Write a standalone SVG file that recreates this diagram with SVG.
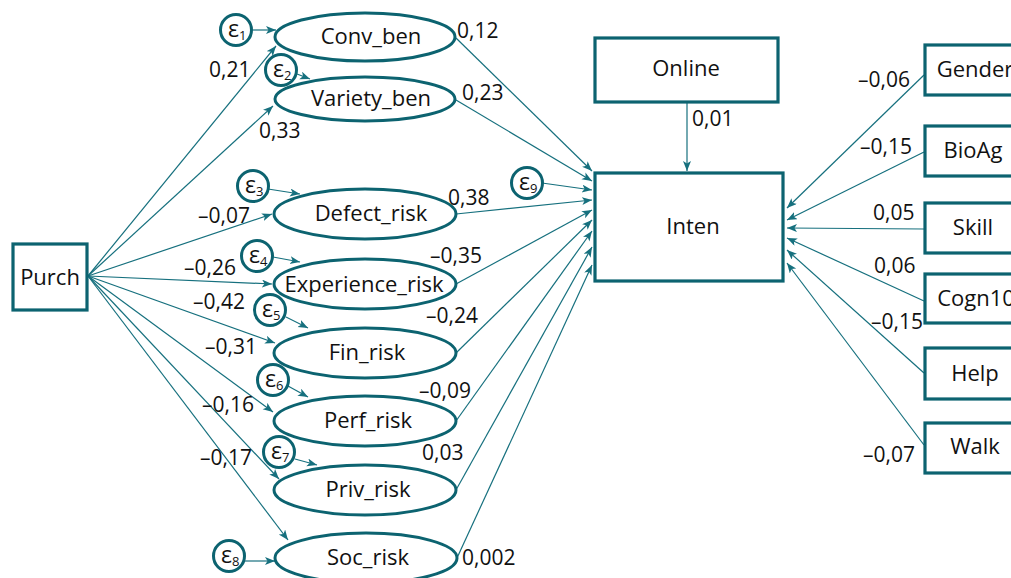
<svg xmlns="http://www.w3.org/2000/svg" width="1011" height="578" viewBox="0 0 1011 578">
<style>
.n{fill:#fff;stroke:#0c6370;stroke-width:3.2}
.e{fill:#fff;stroke:#0c6370;stroke-width:3}
.t{font-family:"Open Sans","Liberation Sans",sans-serif;font-size:22px;fill:#111;text-anchor:middle}
.l{font-family:"Open Sans","Liberation Sans",sans-serif;font-size:21px;fill:#111}
.s{font-family:"Open Sans","Liberation Sans",sans-serif;fill:#111}
.c line{stroke:#16707e;stroke-width:1.2;marker-end:url(#a)}
</style>
<defs>
<marker id="a" markerUnits="userSpaceOnUse" markerWidth="11" markerHeight="9" refX="10" refY="4" orient="auto">
<path d="M0,0 L10,4 L0,8 L2.5,4 z" fill="#16707e"/>
</marker>
</defs>
<g class="c" id="connectors">
<line x1="88" y1="276" x2="276" y2="46"/>
<line x1="88" y1="276" x2="273" y2="106"/>
<line x1="88" y1="276" x2="272" y2="214"/>
<line x1="88" y1="276" x2="272" y2="284"/>
<line x1="88" y1="276" x2="275" y2="343"/>
<line x1="88" y1="276" x2="273" y2="412"/>
<line x1="88" y1="276" x2="279" y2="479"/>
<line x1="88" y1="276" x2="288" y2="540"/>
<line x1="253" y1="30" x2="276" y2="30"/>
<line x1="297" y1="74" x2="310" y2="79"/>
<line x1="268" y1="189" x2="300" y2="194"/>
<line x1="273" y1="257" x2="300" y2="262"/>
<line x1="286" y1="317" x2="308" y2="328"/>
<line x1="288" y1="386" x2="308" y2="397"/>
<line x1="295" y1="459" x2="317" y2="465"/>
<line x1="245" y1="561" x2="275" y2="561"/>
<line x1="542" y1="183" x2="592" y2="190"/>
<line x1="456" y1="38" x2="592" y2="171"/>
<line x1="456" y1="100" x2="592" y2="181"/>
<line x1="456" y1="214" x2="592" y2="200"/>
<line x1="456" y1="284" x2="592" y2="210"/>
<line x1="456" y1="353" x2="592" y2="220"/>
<line x1="456" y1="421" x2="592" y2="231"/>
<line x1="456" y1="490" x2="592" y2="247"/>
<line x1="457" y1="558" x2="592" y2="265"/>
<line x1="687" y1="102" x2="687" y2="171"/>
<line x1="924" y1="75" x2="787" y2="208"/>
<line x1="924" y1="152" x2="787" y2="220"/>
<line x1="924" y1="229" x2="787" y2="228"/>
<line x1="924" y1="301" x2="787" y2="238"/>
<line x1="924" y1="373" x2="787" y2="250"/>
<line x1="924" y1="445" x2="787" y2="263"/>
</g>
<g id="purch"><rect class="n" x="13" y="244" width="74" height="66"/><text class="t" x="50" y="285">Purch</text></g>
<g id="online"><rect class="n" x="595" y="38" width="183" height="64"/><text class="t" x="686" y="76">Online</text></g>
<g id="inten"><rect class="n" x="595" y="173" width="188" height="108"/><text class="t" x="693" y="234">Inten</text></g>
<g id="conv_ben"><ellipse class="e" cx="365" cy="37" rx="90" ry="24"/><text class="t" x="371" y="44">Conv_ben</text></g>
<g id="variety_ben"><ellipse class="e" cx="365" cy="99" rx="90" ry="22"/><text class="t" x="371" y="106">Variety_ben</text></g>
<g id="defect_risk"><ellipse class="e" cx="365" cy="214" rx="91" ry="25"/><text class="t" x="371" y="221">Defect_risk</text></g>
<g id="experience_risk"><ellipse class="e" cx="365" cy="284" rx="91" ry="25"/><text class="t" x="364" y="292">Experience_risk</text></g>
<g id="fin_risk"><ellipse class="e" cx="365" cy="353" rx="91" ry="25"/><text class="t" x="367" y="360">Fin_risk</text></g>
<g id="perf_risk"><ellipse class="e" cx="365" cy="421" rx="91" ry="25"/><text class="t" x="368" y="428">Perf_risk</text></g>
<g id="priv_risk"><ellipse class="e" cx="365" cy="490" rx="91" ry="25"/><text class="t" x="368" y="497">Priv_risk</text></g>
<g id="soc_risk"><ellipse class="e" cx="366" cy="558" rx="91" ry="25"/><text class="t" x="368" y="565">Soc_risk</text></g>
<g id="e1"><circle class="e" cx="236" cy="30" r="15.5"/><text class="s" x="228" y="37" font-size="23">ε<tspan font-size="13" dy="3">1</tspan></text></g>
<g id="e2"><circle class="e" cx="281" cy="70" r="15.5"/><text class="s" x="273" y="77" font-size="23">ε<tspan font-size="13" dy="3">2</tspan></text></g>
<g id="e3"><circle class="e" cx="253" cy="186" r="15.5"/><text class="s" x="245" y="193" font-size="23">ε<tspan font-size="13" dy="3">3</tspan></text></g>
<g id="e4"><circle class="e" cx="257" cy="256" r="15.5"/><text class="s" x="249" y="263" font-size="23">ε<tspan font-size="13" dy="3">4</tspan></text></g>
<g id="e5"><circle class="e" cx="270" cy="310" r="15.5"/><text class="s" x="262" y="317" font-size="23">ε<tspan font-size="13" dy="3">5</tspan></text></g>
<g id="e6"><circle class="e" cx="273" cy="380" r="15.5"/><text class="s" x="265" y="387" font-size="23">ε<tspan font-size="13" dy="3">6</tspan></text></g>
<g id="e7"><circle class="e" cx="279" cy="452" r="15.5"/><text class="s" x="271" y="459" font-size="23">ε<tspan font-size="13" dy="3">7</tspan></text></g>
<g id="e8"><circle class="e" cx="229" cy="556" r="15.5"/><text class="s" x="221" y="563" font-size="23">ε<tspan font-size="13" dy="3">8</tspan></text></g>
<g id="e9"><circle class="e" cx="527" cy="183" r="15.5"/><text class="s" x="519" y="190" font-size="23">ε<tspan font-size="13" dy="3">9</tspan></text></g>
<g id="gender"><rect class="n" x="925" y="45" width="100" height="50"/><text class="t" x="975" y="77">Gender</text></g>
<g id="bioag"><rect class="n" x="925" y="126" width="100" height="50"/><text class="t" x="973" y="158">BioAg</text></g>
<g id="skill"><rect class="n" x="925" y="203" width="100" height="50"/><text class="t" x="973" y="235">Skill</text></g>
<g id="cogn10"><rect class="n" x="925" y="274" width="100" height="49"/><text class="t" x="976" y="306">Cogn10</text></g>
<g id="help"><rect class="n" x="925" y="348" width="100" height="51"/><text class="t" x="975" y="381">Help</text></g>
<g id="walk"><rect class="n" x="925" y="423" width="100" height="50"/><text class="t" x="975" y="454">Walk</text></g>
<g id="labels" class="l">
<text x="209" y="77">0,21</text>
<text x="259" y="138">0,33</text>
<text x="457" y="38">0,12</text>
<text x="462" y="100">0,23</text>
<text x="198" y="223">–0,07</text>
<text x="184" y="275">–0,26</text>
<text x="193" y="309">–0,42</text>
<text x="205" y="354">–0,31</text>
<text x="202" y="412">–0,16</text>
<text x="200" y="465">–0,17</text>
<text x="448" y="205">0,38</text>
<text x="430" y="263">–0,35</text>
<text x="426" y="323">–0,24</text>
<text x="419" y="398">–0,09</text>
<text x="422" y="460">0,03</text>
<text x="462" y="565">0,002</text>
<text x="692" y="126">0,01</text>
<text x="858" y="87">–0,06</text>
<text x="860" y="154">–0,15</text>
<text x="873" y="220">0,05</text>
<text x="874" y="273">0,06</text>
<text x="871" y="329">–0,15</text>
<text x="863" y="462">–0,07</text>
</g>
</svg>
